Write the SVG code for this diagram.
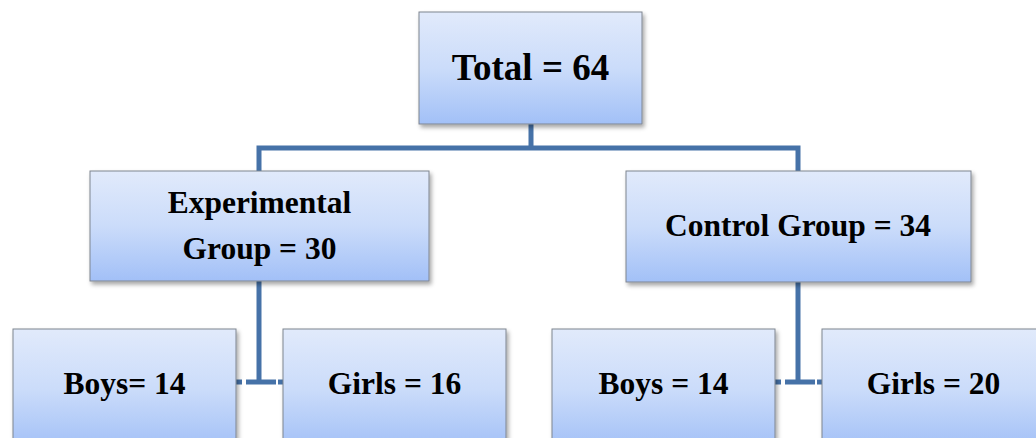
<svg xmlns="http://www.w3.org/2000/svg" width="1036" height="438" viewBox="0 0 1036 438">
  <style>
    .box { fill: url(#g); stroke: #7f8590; stroke-width: 1; filter: url(#sh); }
    .t { font-family: "Liberation Serif", "Times New Roman", serif; font-weight: bold; fill: #000; text-anchor: middle; }
    .conn { stroke: #4672a8; stroke-width: 5; fill: none; }
  </style>
  <defs>
    <linearGradient id="g" x1="0" y1="0" x2="0" y2="1">
      <stop offset="0" stop-color="#e1eafb"/>
      <stop offset="0.5" stop-color="#cbdcfa"/>
      <stop offset="1" stop-color="#a2c0f7"/>
    </linearGradient>
    <filter id="sh" x="-10%" y="-10%" width="125%" height="130%">
      <feDropShadow dx="2" dy="3" stdDeviation="2" flood-color="#000" flood-opacity="0.35"/>
    </filter>
  </defs>
  <rect width="1036" height="438" fill="#fff"/>
  <g id="connectors">
    <path class="conn" d="M531 124 V148 M259 171 V148 H798 V171"/>
    <path class="conn" d="M259 281 V382 M798 282 V382"/>
    <path class="conn" d="M236 382 H242 M246 382 H276 M278 382 H283"/>
    <path class="conn" d="M775 382 H781 M785 382 H815 M817 382 H822"/>
  </g>
  <g id="total">
    <rect class="box" x="419" y="12" width="223" height="112"/>
    <text class="t" x="530.5" y="80" font-size="37">Total = 64</text>
  </g>
  <g id="experimental">
    <rect class="box" x="90" y="171" width="339" height="110"/>
    <text class="t" x="259.5" y="213" font-size="31.5">Experimental</text>
    <text class="t" x="259.5" y="259" font-size="31.5">Group = 30</text>
  </g>
  <g id="control">
    <rect class="box" x="626" y="171" width="345" height="111"/>
    <text class="t" x="798" y="236" font-size="31.5">Control Group = 34</text>
  </g>
  <g id="boys1">
    <rect class="box" x="13" y="329" width="223" height="120"/>
    <text class="t" x="124.5" y="394" font-size="31.5">Boys= 14</text>
  </g>
  <g id="girls1">
    <rect class="box" x="283" y="329" width="223" height="120"/>
    <text class="t" x="394.5" y="394" font-size="31.5">Girls = 16</text>
  </g>
  <g id="boys2">
    <rect class="box" x="552" y="329" width="223" height="120"/>
    <text class="t" x="663.5" y="394" font-size="31.5">Boys = 14</text>
  </g>
  <g id="girls2">
    <rect class="box" x="822" y="329" width="223" height="120"/>
    <text class="t" x="933.5" y="394" font-size="31.5">Girls = 20</text>
  </g>
</svg>
